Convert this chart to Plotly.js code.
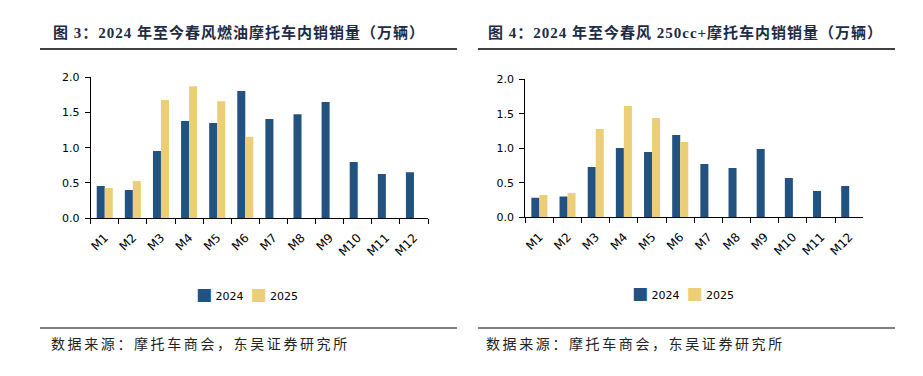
<!DOCTYPE html>
<html>
<head>
<meta charset="utf-8">
<script src="https://cdn.plot.ly/plotly-3.0.1.min.js"></script>
<style>html,body{margin:0;padding:0;background:#fff;}#chart{width:923px;height:376px;}</style>
</head>
<body>
<div id="chart"></div>
<script>
const months = ['M1','M2','M3','M4','M5','M6','M7','M8','M9','M10','M11','M12'];
const fuel2024 = [0.455,0.398,0.953,1.379,1.351,1.806,1.408,1.474,1.649,0.796,0.626,0.649];
const fuel2025 = [0.427,0.526,1.678,1.872,1.659,1.156,null,null,null,null,null,null];
const big2024 = [0.285,0.300,0.729,1.005,0.947,1.193,0.773,0.715,0.990,0.570,0.382,0.454];
const big2025 = [0.324,0.353,1.280,1.614,1.440,1.092,null,null,null,null,null,null];
const seriesNames = ['2024','2025'];
const title1 = '图 3：2024 年至今春风燃油摩托车内销销量（万辆）';
const title2 = '图 4：2024 年至今春风 250cc+摩托车内销销量（万辆）';
const sourceText = '数据来源：摩托车商会，东吴证券研究所';

const C24 = '#22527F', C25 = '#EDCE78';
const W = 923, H = 376;
const px = x => x / W, py = y => (H - y) / H;

const traces = [
  {type:'bar', x: months, y: fuel2024, name: seriesNames[0], marker:{color:C24}, xaxis:'x', yaxis:'y', showlegend:false},
  {type:'bar', x: months, y: fuel2025, name: seriesNames[1], marker:{color:C25}, xaxis:'x', yaxis:'y', showlegend:false},
  {type:'bar', x: months, y: big2024, name: seriesNames[0], marker:{color:C24}, xaxis:'x2', yaxis:'y2', showlegend:false},
  {type:'bar', x: months, y: big2025, name: seriesNames[1], marker:{color:C25}, xaxis:'x2', yaxis:'y2', showlegend:false}
];

function xax(domain, anchor){
  return {domain: domain, anchor: anchor, type:'category', showline:true, linecolor:'#000', linewidth:1,
    ticks:'outside', tickson:'boundaries', ticklen:5, tickcolor:'#000', tickangle:-45, ticklabelstandoff:7,
    tickfont: {family:'DejaVu Sans', size:12, color:'#000'}, showgrid:false, zeroline:false, fixedrange:true};
}
function yax(domain, anchor){
  return {domain: domain, anchor: anchor, range:[0,2], dtick:0.5, tickformat:'.1f', showline:true, linecolor:'#000', linewidth:1,
    ticks:'outside', ticklen:5, tickcolor:'#000', ticklabelstandoff:3,
    tickfont: {family:'DejaVu Sans', size:11, color:'#000'}, showgrid:false, zeroline:false, fixedrange:true};
}
const titleFont = {family:'Liberation Serif, Noto Sans CJK SC', size:15, color:'#1d2b45'};
const srcFont = {family:'Liberation Serif, Noto Sans CJK SC', size:14, color:'#222'};
const legFont = {family:'DejaVu Sans', size:11, color:'#000'};

function legendText(){
  const sq = c => '<span style="color:'+c+';font-size:17px">■</span>';
  return sq(C24) + ' ' + seriesNames[0] + '  ' + sq(C25) + ' ' + seriesNames[1];
}
const spaced = (t, s) => '<span style="letter-spacing:'+s+'px">'+t+'</span>';

const layout = {
  width: W, height: H, margin:{l:0,r:0,t:0,b:0}, paper_bgcolor:'#fff', plot_bgcolor:'#fff',
  barmode:'group', bargap:0.43, bargroupgap:0, showlegend:false,
  xaxis: xax([px(90.7), px(428)], 'y'),
  yaxis: yax([py(218), py(77.3)], 'x'),
  xaxis2: xax([px(525.3), px(863.3)], 'y2'),
  yaxis2: yax([py(217.3), py(79.3)], 'x2'),
  shapes: [
    {type:'line', xref:'paper', yref:'paper', x0:px(40), x1:px(457), y0:py(49), y1:py(49), line:{color:'#000', width:1.5}},
    {type:'line', xref:'paper', yref:'paper', x0:px(478), x1:px(895), y0:py(49), y1:py(49), line:{color:'#000', width:1.5}},
    {type:'line', xref:'paper', yref:'paper', x0:px(40), x1:px(457), y0:py(328), y1:py(328), line:{color:'#000', width:1.2}},
    {type:'line', xref:'paper', yref:'paper', x0:px(478), x1:px(895), y0:py(328), y1:py(328), line:{color:'#000', width:1.2}}
  ],
  annotations: [
    {xref:'paper', yref:'paper', x:px(51), y:py(32), xanchor:'left', yanchor:'middle', showarrow:false, text:'<b>'+spaced(title1,1)+'</b>', font:titleFont},
    {xref:'paper', yref:'paper', x:px(486), y:py(32), xanchor:'left', yanchor:'middle', showarrow:false, text:'<b>'+spaced(title2,1)+'</b>', font:titleFont},
    {xref:'paper', yref:'paper', x:px(49), y:py(344), xanchor:'left', yanchor:'middle', showarrow:false, text:spaced(sourceText,2.6), font:srcFont},
    {xref:'paper', yref:'paper', x:px(484), y:py(344), xanchor:'left', yanchor:'middle', showarrow:false, text:spaced(sourceText,2.6), font:srcFont},
    {xref:'paper', yref:'paper', x:px(247.5), y:py(294), xanchor:'center', yanchor:'middle', showarrow:false, text:legendText(), font:legFont},
    {xref:'paper', yref:'paper', x:px(682.5), y:py(293), xanchor:'center', yanchor:'middle', showarrow:false, text:legendText(), font:legFont}
  ]
};
Plotly.newPlot('chart', traces, layout, {displayModeBar:false, staticPlot:true});
</script>
</body>
</html>
